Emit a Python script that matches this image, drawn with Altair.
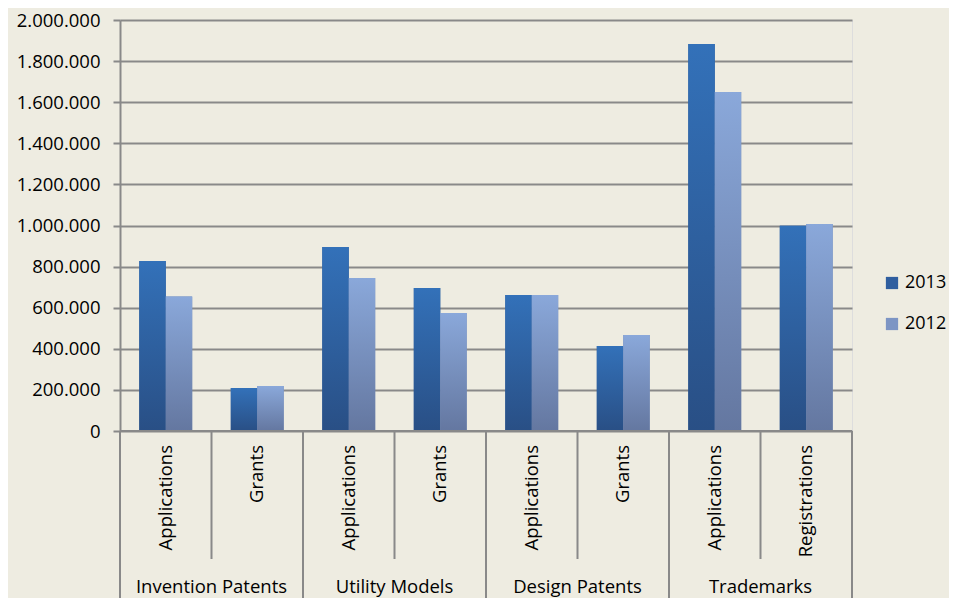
import altair as alt
import pandas as pd

groups = ["Invention Patents", "Invention Patents", "Utility Models", "Utility Models",
          "Design Patents", "Design Patents", "Trademarks", "Trademarks"]
subcats = ["Applications", "Grants", "Applications", "Grants",
           "Applications", "Grants", "Applications", "Registrations"]
years = ["2013", "2012"]
v2013 = [827000, 209000, 895000, 696000, 662000, 414000, 1883000, 999000]
v2012 = [655000, 219000, 745000, 574000, 662000, 467000, 1650000, 1007000]

slots = [f"{i}" for i in range(len(subcats))]
rows = []
for i, s in enumerate(slots):
    rows.append({"slot": s, "group": groups[i], "sub": subcats[i], "year": "2013", "value": v2013[i]})
    rows.append({"slot": s, "group": groups[i], "sub": subcats[i], "year": "2012", "value": v2012[i]})
df = pd.DataFrame(rows)

slot_df = pd.DataFrame({"slot": slots, "group": groups, "sub": subcats,
                        "first": [i % 2 == 0 for i in range(len(slots))]})
grp_df = slot_df[slot_df["first"]].copy()

W, H = 732, 411
FONT = "Open Sans"
BG = "#EEECE1"
LINE = "#898989"

xs = alt.Scale(domain=slots, paddingInner=0, paddingOuter=0)
xo = alt.Scale(domain=years, paddingInner=0, paddingOuter=0.73)
ys = alt.Scale(domain=[0, 2000000], nice=False)

base = alt.Chart(df)

yaxis = alt.Axis(values=[i * 200000 for i in range(11)], format=",d", grid=True,
                 gridColor=LINE, gridWidth=2, domainColor=LINE, domainWidth=2,
                 tickColor=LINE, tickWidth=2, tickSize=7, labelFont=FONT,
                 labelFontSize=18.5, labelColor="#000000", labelPadding=13, title=None)

legend_bars = base.mark_bar().encode(
    x=alt.X("slot:N", scale=xs, axis=None),
    xOffset=alt.XOffset("year:N", scale=xo),
    y=alt.Y("value:Q", scale=ys, axis=yaxis),
    color=alt.Color("year:N", scale=alt.Scale(domain=years, range=["#2F5E9F", "#7D95C4"]),
                    legend=alt.Legend(title=None, orient="none", legendX=763, legendY=254,
                                      symbolType="square", symbolSize=150, symbolStrokeWidth=0,
                                      labelFont=FONT, labelFontSize=18, labelColor="#000000",
                                      labelOffset=4, rowPadding=23)),
)

shadow = base.mark_bar(color="#000000", opacity=0.08, xOffset=3).encode(
    x=alt.X("slot:N", scale=xs),
    xOffset=alt.XOffset("year:N", scale=xo),
    y=alt.Y("value:Q", scale=ys),
)

def grad(top, bottom):
    return alt.LinearGradient(gradient="linear",
                              stops=[alt.GradientStop(color=top, offset=0),
                                     alt.GradientStop(color=bottom, offset=1)],
                              x1=0, x2=0, y1=0, y2=1)

bars13 = base.transform_filter(alt.datum.year == "2013").mark_bar(
    fill=grad("#3371B9", "#294F85")).encode(
    x=alt.X("slot:N", scale=xs),
    xOffset=alt.XOffset("year:N", scale=xo),
    y=alt.Y("value:Q", scale=ys),
)
bars12 = base.transform_filter(alt.datum.year == "2012").mark_bar(
    fill=grad("#8AA8DA", "#6477A0")).encode(
    x=alt.X("slot:N", scale=xs),
    xOffset=alt.XOffset("year:N", scale=xo),
    y=alt.Y("value:Q", scale=ys),
)

xline = alt.Chart(slot_df).mark_rule(color=LINE, strokeWidth=2).encode(
    x=alt.value(0), x2=alt.value(W), y=alt.value(H))

inner_div = alt.Chart(slot_df).transform_filter("!datum.first").mark_rule(
    color=LINE, strokeWidth=2).encode(
    x=alt.X("slot:N", scale=xs, bandPosition=0), y=alt.value(H), y2=alt.value(H + 128))
outer_div = alt.Chart(slot_df).transform_filter("datum.first").mark_rule(
    color=LINE, strokeWidth=2).encode(
    x=alt.X("slot:N", scale=xs, bandPosition=0), y=alt.value(H), y2=alt.value(H + 180))
end_div = alt.Chart(slot_df).transform_filter(f"datum.slot == '{slots[-1]}'").mark_rule(
    color=LINE, strokeWidth=2).encode(
    x=alt.X("slot:N", scale=xs, bandPosition=1), y=alt.value(H), y2=alt.value(H + 180))

sub_labels = alt.Chart(slot_df).mark_text(
    angle=270, align="right", baseline="middle", font=FONT, fontSize=18.5, color="#000000").encode(
    x=alt.X("slot:N", scale=xs), y=alt.value(H + 14), text="sub:N")

grp_labels = alt.Chart(grp_df).mark_text(
    align="center", baseline="alphabetic", font=FONT, fontSize=18.5, color="#000000").encode(
    x=alt.X("slot:N", scale=xs, bandPosition=1), y=alt.value(H + 162), text="group:N")

chart = alt.layer(
    legend_bars, shadow, bars13, bars12, xline, inner_div, outer_div, end_div, sub_labels, grp_labels
).properties(
    width=W, height=H,
    autosize=alt.AutoSizeParams(type="none"),
    padding={"left": 112, "top": 12, "right": 97, "bottom": 167},
    background=BG,
).configure_view(stroke=None).configure(
    locale={"number": {"decimal": ",", "thousands": ".", "grouping": [3], "currency": ["", " €"]}}
)

chart.save("out.html", embed_options={"renderer": "svg", "actions": False})
